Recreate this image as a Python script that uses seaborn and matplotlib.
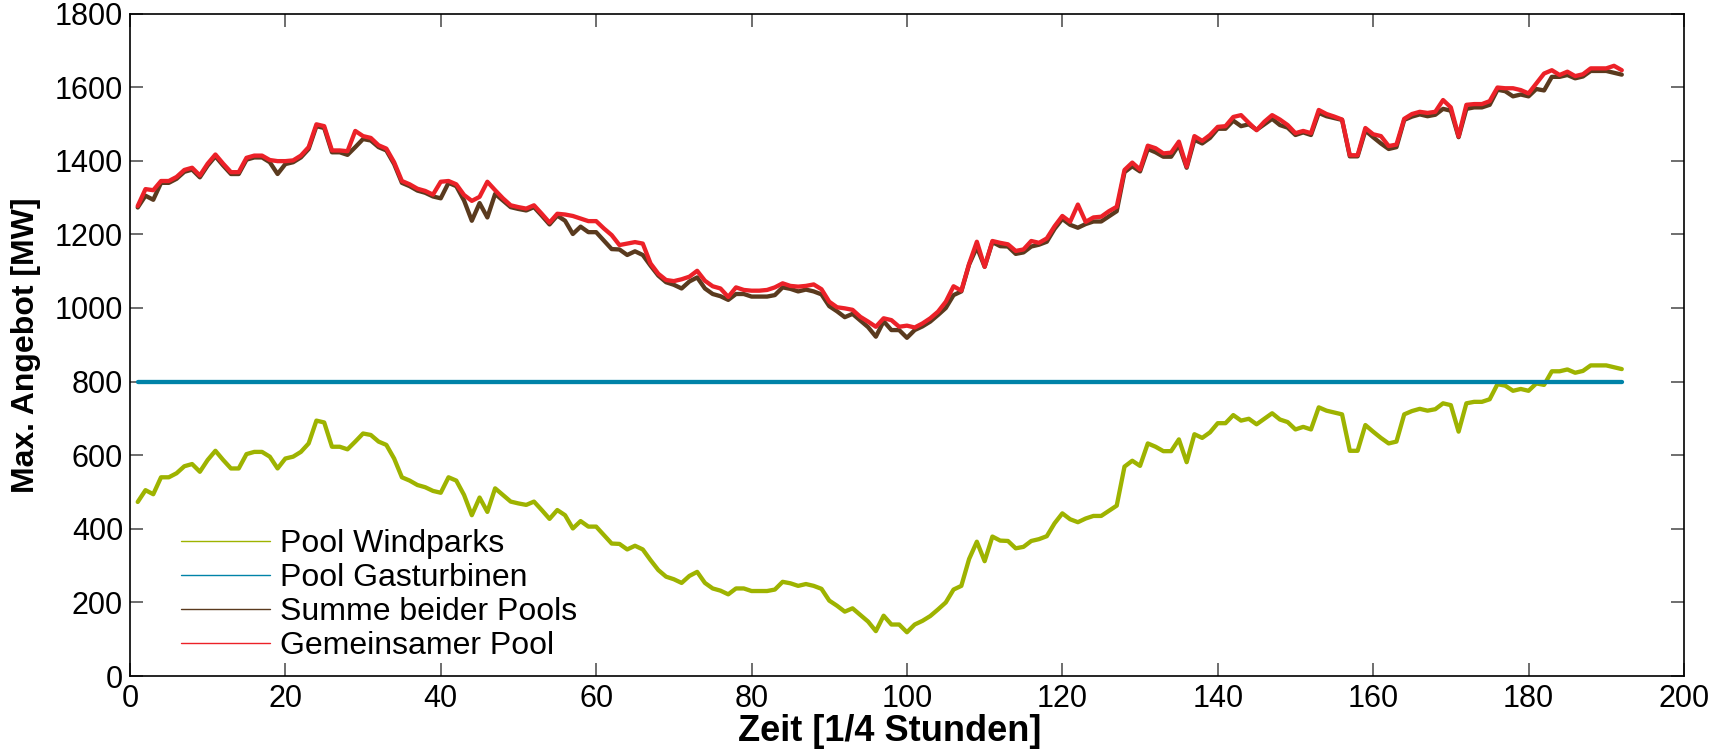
import matplotlib
matplotlib.use("Agg")
import matplotlib.pyplot as plt
from matplotlib.lines import Line2D
import numpy as np
import pandas as pd
import seaborn as sns

# Quarter-hour index (two days)
zeit = list(range(1, 193))

# Maximum offer of the wind farm pool [MW]
pool_windparks = [
    473, 505, 494, 540, 540, 551, 570, 576, 555, 587, 612, 587, 564, 564, 603, 609,
    609, 596, 564, 591, 596, 609, 632, 694, 689, 623, 623, 616, 637, 659, 655, 637,
    628, 591, 540, 531, 519, 513, 503, 498, 540, 531, 492, 437, 485, 446, 510, 492,
    474, 469, 465, 474, 451, 427, 451, 437, 401, 421, 406, 406, 383, 360, 359, 344,
    354, 344, 315, 288, 270, 263, 253, 272, 283, 253, 238, 232, 222, 238, 238, 231,
    231, 231, 235, 256, 252, 245, 250, 245, 237, 205, 191, 175, 184, 166, 148, 122,
    164, 140, 140, 119, 140, 150, 163, 181, 200, 235, 245, 318, 365, 312, 379, 368,
    367, 347, 351, 367, 372, 380, 415, 442, 426, 418, 428, 435, 435, 449, 463, 569,
    585, 571, 632, 623, 611, 611, 643, 581, 657, 647, 662, 687, 687, 709, 694, 699,
    684, 699, 714, 697, 690, 670, 677, 670, 730, 721, 716, 711, 612, 612, 682, 664,
    647, 632, 637, 711, 720, 726, 721, 725, 741, 736, 664, 741, 745, 745, 752, 793,
    789, 775, 780, 775, 795, 791, 828, 828, 833, 824, 829, 844, 844, 844, 839, 834,
]

# Maximum offer of the gas turbine pool [MW]
pool_gasturbinen = [800] * len(zeit)

# Maximum offer of the joint pool [MW]
gemeinsamer_pool = [
    1277, 1323, 1320, 1345, 1345, 1356, 1375, 1381, 1360, 1392, 1417, 1392, 1369, 1369, 1408, 1414,
    1414, 1402, 1399, 1399, 1401, 1414, 1437, 1499, 1494, 1428, 1428, 1426, 1481, 1467, 1462, 1442,
    1433, 1396, 1345, 1336, 1324, 1318, 1308, 1343, 1345, 1336, 1307, 1291, 1302, 1343, 1320, 1298,
    1279, 1274, 1270, 1279, 1256, 1232, 1256, 1254, 1250, 1243, 1236, 1236, 1216, 1198, 1171, 1175,
    1179, 1175, 1121, 1093, 1076, 1073, 1078, 1085, 1101, 1074, 1059, 1053, 1030, 1056, 1049, 1047,
    1047, 1049, 1056, 1067, 1060, 1058, 1060, 1064, 1051, 1017, 1002, 999, 995, 976, 963, 949,
    972, 967, 949, 952, 947, 958, 972, 990, 1017, 1059, 1047, 1120, 1180, 1112, 1182, 1177,
    1173, 1155, 1159, 1182, 1177, 1189, 1222, 1250, 1234, 1281, 1234, 1246, 1248, 1263, 1275, 1375,
    1395, 1376, 1441, 1434, 1420, 1422, 1452, 1384, 1467, 1454, 1470, 1492, 1494, 1519, 1524, 1503,
    1483, 1506, 1524, 1512, 1497, 1475, 1481, 1475, 1538, 1527, 1520, 1512, 1415, 1415, 1489, 1472,
    1467, 1440, 1444, 1514, 1527, 1533, 1530, 1533, 1565, 1545, 1466, 1552, 1554, 1554, 1562, 1599,
    1597, 1597, 1592, 1583, 1610, 1637, 1646, 1633, 1642, 1630, 1635, 1651, 1651, 1651, 1658, 1646,
]

serien = ["Pool Windparks", "Pool Gasturbinen", "Summe beider Pools", "Gemeinsamer Pool"]
farben = ["#9EB300", "#0083A8", "#5A3A1E", "#EC2128"]

summe = [w + g for w, g in zip(pool_windparks, pool_gasturbinen)]

df = pd.DataFrame({
    "Zeit": zeit * 4,
    "MW": pool_windparks + pool_gasturbinen + summe + gemeinsamer_pool,
    "Serie": [s for s in serien for _ in zeit],
})

sns.set_theme(style="white")
plt.rcParams["font.family"] = ["Liberation Sans", "DejaVu Sans"]
plt.rcParams["text.color"] = "black"
plt.rcParams["axes.labelcolor"] = "black"

fig = plt.figure(figsize=(17.28, 7.52), dpi=100)
ax = fig.add_axes([0.0752, 0.101, 0.8993, 0.881])

for i, (name, col) in enumerate(zip(serien, farben)):
    sns.lineplot(data=df[df["Serie"] == name], x="Zeit", y="MW", color=col,
                 linewidth=3.1, ax=ax, legend=False, zorder=2 + i)

ax.set_xlim(0, 200)
ax.set_ylim(0, 1800)
ax.set_xticks(np.arange(0, 201, 20))
ax.set_yticks(np.arange(0, 1801, 200))

for sp in ax.spines.values():
    sp.set_visible(True)
    sp.set_color("black")
    sp.set_linewidth(1.2)

ax.tick_params(axis="both", which="major", direction="in", length=9.5, width=1.2,
               color="#555555", labelsize=22, labelcolor="black",
               top=True, right=True, bottom=True, left=True)
ax.tick_params(axis="x", pad=6)
ax.tick_params(axis="y", pad=5)

ax.set_xlabel("Zeit [1/4 Stunden]", fontsize=26, fontweight="bold")
ax.xaxis.set_label_coords(0.489, -0.058)
ax.set_ylabel("Max. Angebot [MW]", fontsize=23, fontweight="bold")
ax.yaxis.set_label_coords(-0.057, 0.5)

handles = [Line2D([0], [0], color=c, linewidth=1.0) for c in farben]
ax.legend(handles, serien, loc="upper left", bbox_to_anchor=(0.0328, 0.222),
          frameon=False, fontsize=23, handlelength=2.8, handletextpad=0.31,
          labelspacing=0.13, borderpad=0, borderaxespad=0)

fig.savefig("out.png", dpi=100)
